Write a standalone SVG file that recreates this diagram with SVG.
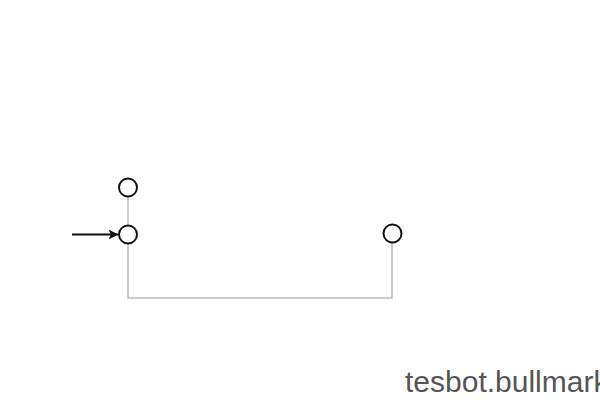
<svg xmlns="http://www.w3.org/2000/svg" width="600" height="400" viewBox="0 0 600 400">
<style>
.node{fill:#fff;stroke:#111;stroke-width:2}
.conn{fill:none;stroke:#bbb;stroke-width:1.5}
.arrow{stroke:#111;stroke-width:2}
.label{font-family:"Liberation Sans",Arial,sans-serif;font-size:30px;fill:#555}
</style>
<defs>
<marker id="ah" viewBox="0 0 10 10" refX="9.5" refY="5" markerWidth="5" markerHeight="5" orient="auto" markerUnits="strokeWidth">
<path d="M0,0 L10,5 L0,10 L2.5,5 z" fill="#111"/>
</marker>
</defs>
<rect width="600" height="400" fill="#fff"/>
<g id="connectors">
<line class="conn" x1="128" y1="197" x2="128" y2="225"/>
<polyline class="conn" points="128,244 128,298 392,298 392,243"/>
<line class="arrow" x1="72" y1="234.5" x2="118" y2="234.5" marker-end="url(#ah)"/>
</g>
<g id="node-top"><circle class="node" cx="128" cy="187.5" r="9"/></g>
<g id="node-mid"><circle class="node" cx="128" cy="234.5" r="9"/></g>
<g id="node-right"><circle class="node" cx="392.5" cy="233.5" r="9"/></g>
<text class="label" x="405" y="392">tesbot.bullmark</text>
</svg>
